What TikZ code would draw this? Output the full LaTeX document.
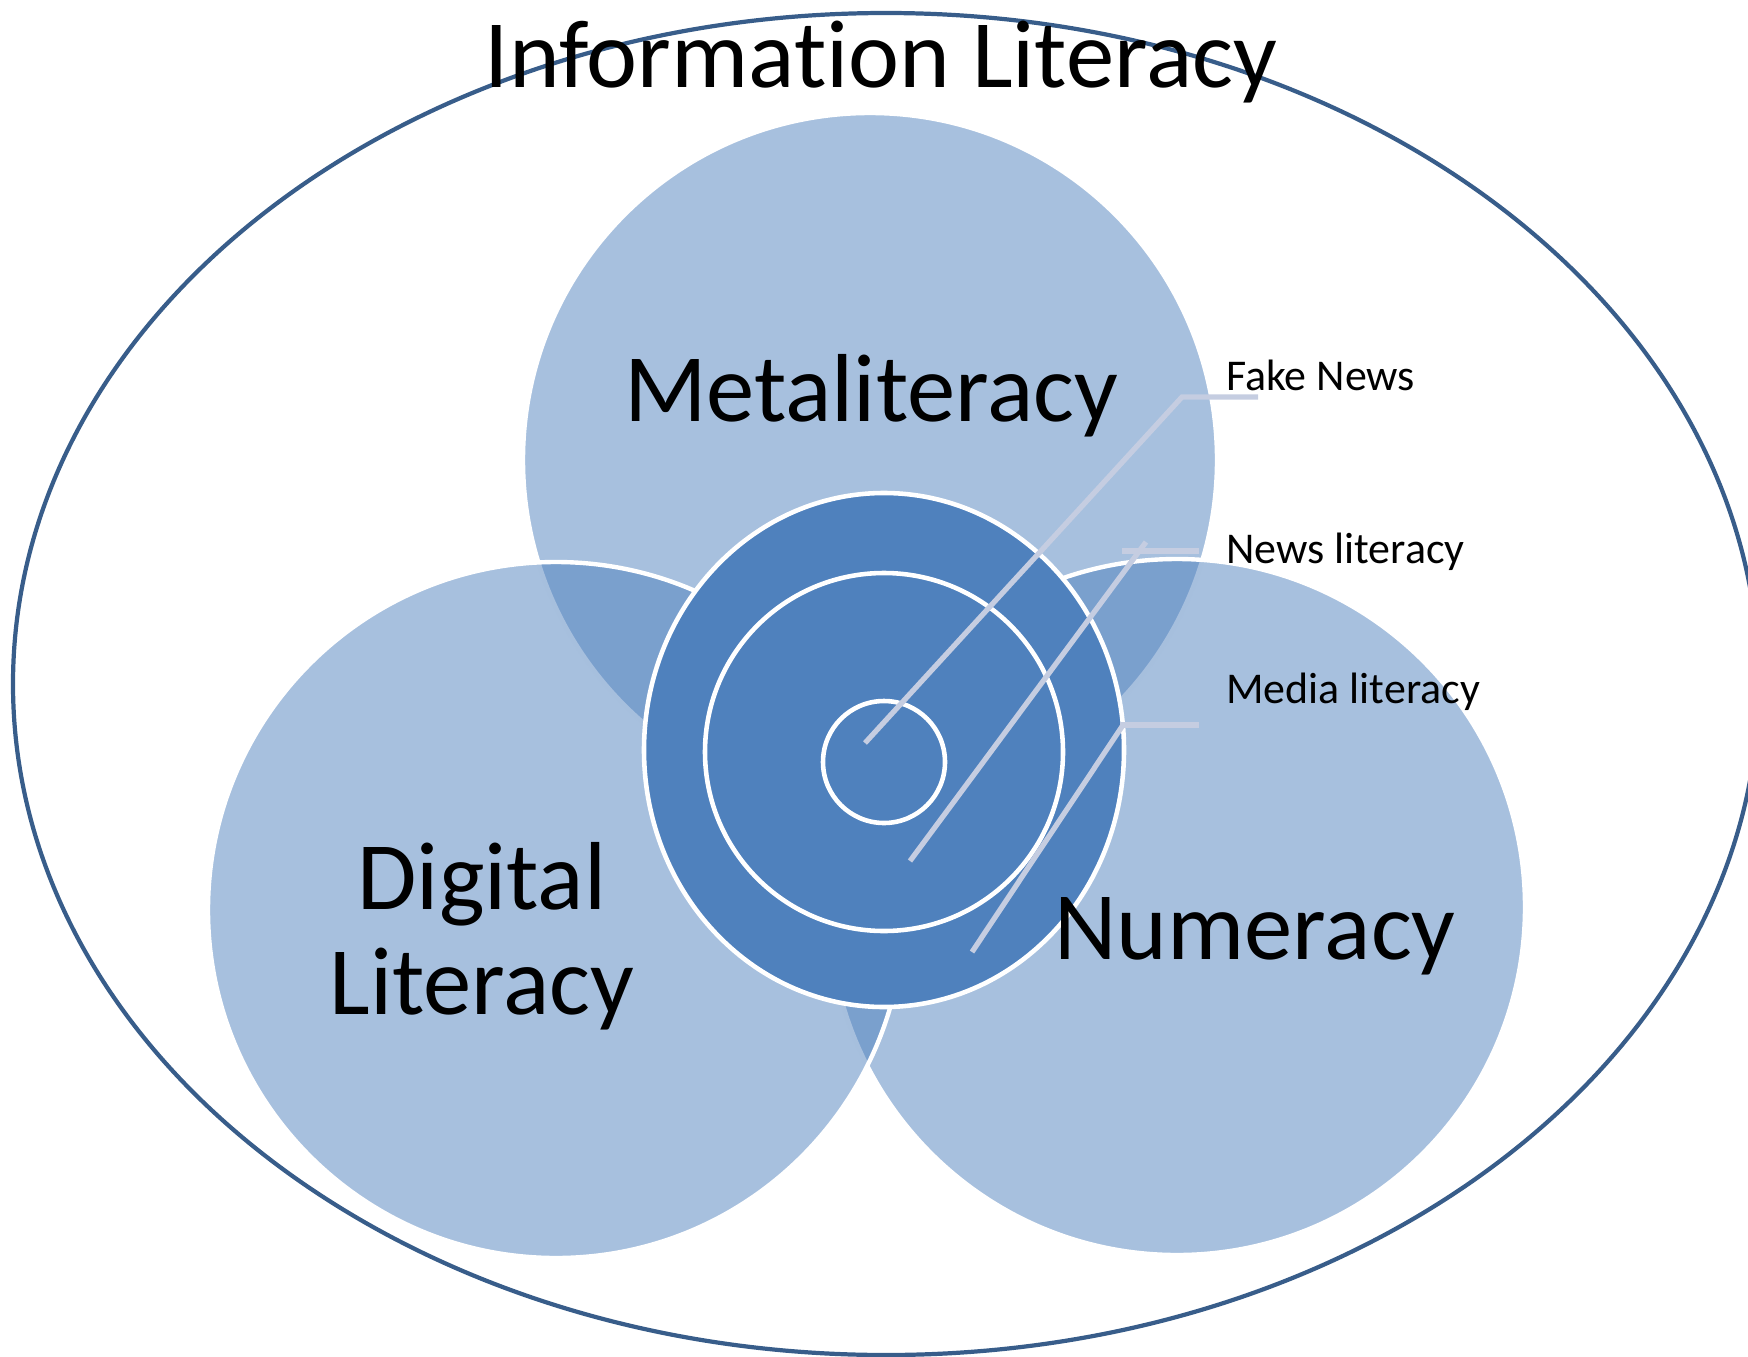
\documentclass[tikz,border=0pt]{standalone}
\usepackage{fontspec}
\setmainfont{Carlito}[Ligatures={NoCommon}]
\definecolor{accent}{HTML}{4F81BD}
\definecolor{outline}{HTML}{385D8A}
\definecolor{leader}{HTML}{C5CDE1}
\tikzset{
  venn/.style={fill=accent, fill opacity=0.5, draw=white, draw opacity=1, line width=2.5pt},
  ring/.style={fill=accent, draw=white, line width=2.6pt},
  bigtext/.style={font=\fontsize{55pt}{59.5pt}\selectfont, inner sep=0pt, anchor=base, align=center},
  smalltext/.style={font=\fontsize{25pt}{30pt}\selectfont, inner sep=0pt, anchor=base west},
  leaderline/.style={draw=leader, line width=3pt}
}
\begin{document}
\begin{tikzpicture}[x=0.02cm, y=-0.02cm]
\useasboundingbox (0,0) rectangle (1748,1356);
\clip (0,0) rectangle (1748,1356);
% outer ellipse
\draw[outline, line width=2.4pt] (886,684) ellipse [x radius=873, y radius=671];
% venn circles
\path[venn] (870,460) circle [radius=347];
\path[venn] (1177,907) circle [radius=348];
\path[venn] (556,910) circle [radius=348];
% target
\path[ring] (884,750) ellipse [x radius=240, y radius=257];
\path[ring] (884,752) circle [radius=179];
\path[ring] (884,762) circle [radius=61];
% labels
\node[bigtext] (info) at (881,87) {Information Literacy};
\node[bigtext] (meta) at (871,421) {Metaliteracy};
\node[bigtext] (digital) at (482,1014) {Digital\\Literacy};
\node[bigtext] (num) at (1255,959) {Numeracy};
\node[smalltext] (fake) at (1226,390) {Fake News};
\node[smalltext] (newslit) at (1226,563) {News literacy};
\node[smalltext] (medialit) at (1226,703) {Media literacy};
% leader coordinates
\coordinate (f0) at (865,743);
\coordinate (f1) at (1182,397);
\coordinate (f2) at (1258,397);
\coordinate (n0) at (910,861);
\coordinate (n1) at (1146,542);
\coordinate (n2) at (1122,551);
\coordinate (n3) at (1199,551);
\coordinate (m0) at (972,952);
\coordinate (m1) at (1123,725);
\coordinate (m2) at (1120,725);
\coordinate (m3) at (1199,725);
\draw[leaderline] (f0) -- (f1) -- (f2);
\draw[leaderline] (n0) -- (n1);
\draw[leaderline] (n2) -- (n3);
\draw[leaderline] (m0) -- (m1);
\draw[leaderline] (m2) -- (m3);
\end{tikzpicture}
\end{document}
